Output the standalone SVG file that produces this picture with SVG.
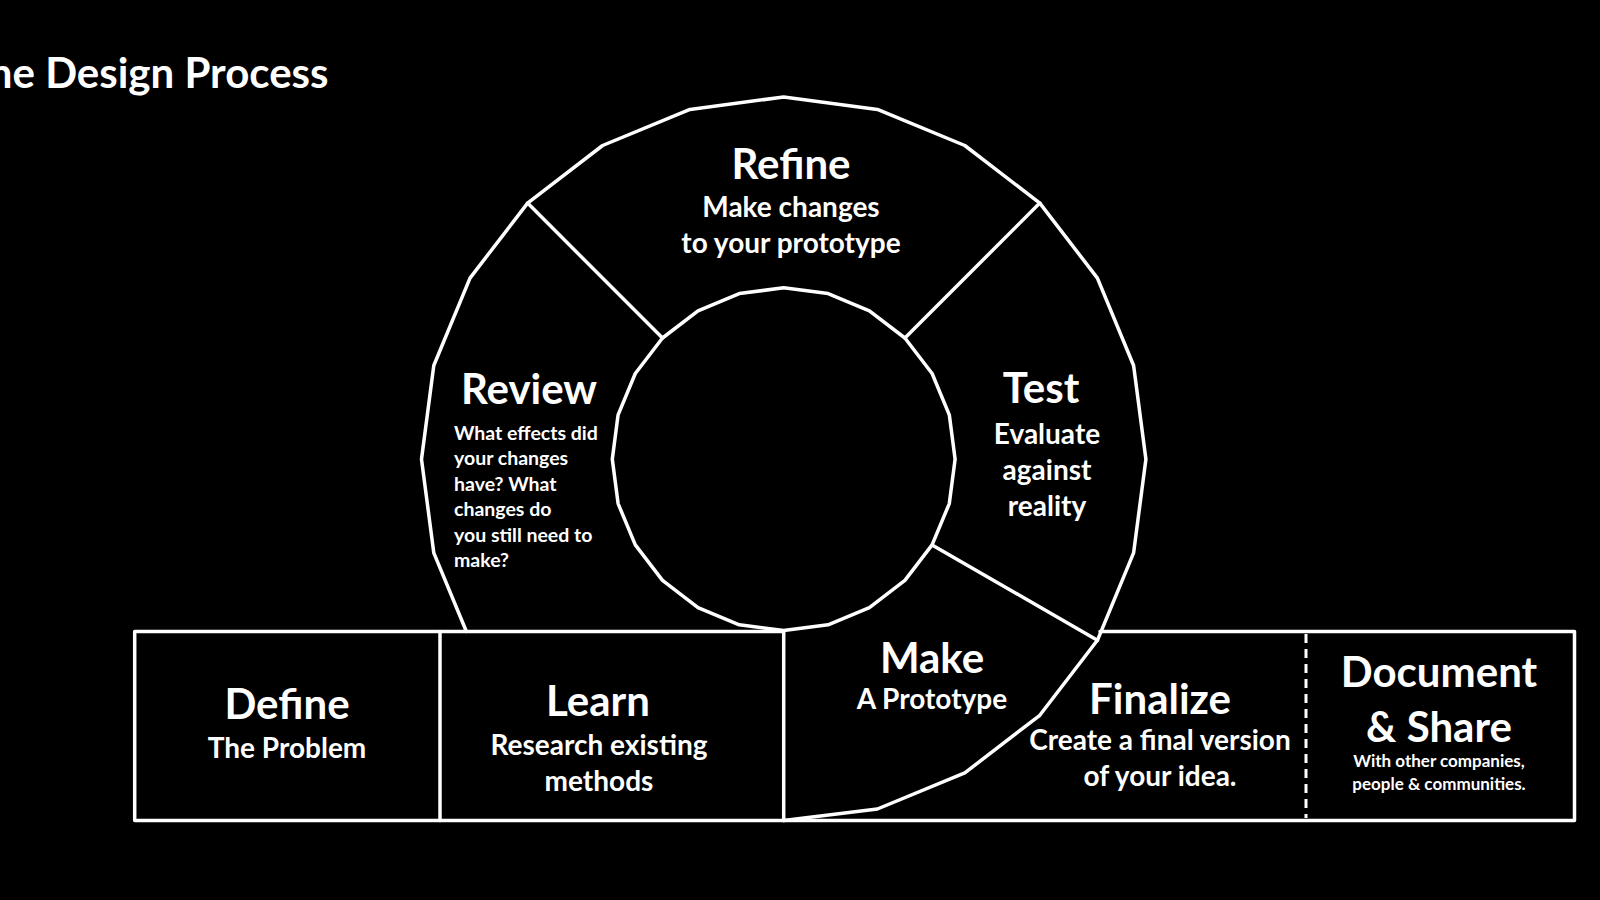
<svg xmlns="http://www.w3.org/2000/svg" width="1600" height="900" viewBox="0 0 1600 900">
<style>
.ln{fill:none;stroke:#fff;stroke-width:3.5;stroke-linejoin:round;stroke-linecap:round}
.dash{fill:none;stroke:#fff;stroke-width:3;stroke-dasharray:9 6}
text{fill:#fff;font-family:Lato,"Open Sans",sans-serif;font-weight:bold}
.t{font-size:42px;text-anchor:middle}
.s{font-size:28px;text-anchor:middle}
.r{font-size:19.5px}
.x{font-size:17px;text-anchor:middle}
</style>
<rect width="1600" height="900" fill="#000"/>
<text x="-36" y="88" font-size="42">The Design Process</text>
<g id="connectors">
<polyline class="ln" points="466.4,631.5 433.8,552.9 421.5,459.2 433.8,365.5 470.0,278.1 527.6,203.1 602.6,145.5 690.0,109.4 783.7,97.0 877.4,109.4 964.8,145.5 1039.8,203.1 1097.4,278.1 1133.6,365.5 1145.9,459.2 1133.6,552.9 1097.4,640.3 1039.8,715.3 964.8,772.9 877.4,809.0 783.7,820.5"/>
<polygon class="ln" points="955.1,459.2 949.3,414.8 932.1,373.5 904.9,338.0 869.4,310.8 828.1,293.6 783.7,287.8 739.3,293.6 698.0,310.8 662.5,338.0 635.3,373.5 618.1,414.8 612.3,459.2 618.1,503.6 635.3,544.9 662.5,580.4 698.0,607.6 739.3,624.8 783.7,630.6 828.1,624.8 869.4,607.6 904.9,580.4 932.1,544.9 949.3,503.6"/>
<line class="ln" x1="527.6" y1="203.1" x2="662.5" y2="338.0"/>
<line class="ln" x1="1039.8" y1="203.1" x2="904.9" y2="338.0"/>
<line class="ln" x1="1097.4" y1="640.3" x2="932.1" y2="544.9"/>
<polyline class="ln" points="783.7,631.5 134.7,631.5 134.7,820.5 1574.5,820.5 1574.5,631.5 1100,631.5"/>
<line class="ln" x1="440" y1="631.5" x2="440" y2="820.5"/>
<line class="ln" x1="783.7" y1="631.5" x2="783.7" y2="820.5"/>
<line class="dash" x1="1306" y1="634" x2="1306" y2="818"/>
</g>
<g id="refine">
<text class="t" x="791" y="179">Refine</text>
<text class="s" x="791" y="217">Make changes</text>
<text class="s" x="791" y="253">to your prototype</text>
</g>
<g id="review">
<text class="t" x="529" y="404">Review</text>
<text class="r" x="454" y="440">What effects did</text>
<text class="r" x="454" y="465">your changes</text>
<text class="r" x="454" y="491">have? What</text>
<text class="r" x="454" y="516">changes do</text>
<text class="r" x="454" y="542">you still need to</text>
<text class="r" x="454" y="567">make?</text>
</g>
<g id="test">
<text class="t" x="1041" y="403">Test</text>
<text class="s" x="1047" y="444">Evaluate</text>
<text class="s" x="1047" y="480">against</text>
<text class="s" x="1047" y="516">reality</text>
</g>
<g id="make">
<text class="t" x="932" y="673">Make</text>
<text class="s" x="932" y="709">A Prototype</text>
</g>
<g id="define">
<text class="t" x="287" y="719">Define</text>
<text class="s" x="287" y="758">The Problem</text>
</g>
<g id="learn">
<text class="t" x="598" y="716">Learn</text>
<text class="s" x="599" y="755">Research existing</text>
<text class="s" x="599" y="791">methods</text>
</g>
<g id="finalize">
<text class="t" x="1160" y="714">Finalize</text>
<text class="s" x="1160" y="750">Create a final version</text>
<text class="s" x="1160" y="786">of your idea.</text>
</g>
<g id="document">
<text class="t" x="1439" y="687">Document</text>
<text class="t" x="1439" y="742">&amp; Share</text>
<text class="x" x="1439" y="767">With other companies,</text>
<text class="x" x="1439" y="790">people &amp; communities.</text>
</g>
</svg>
